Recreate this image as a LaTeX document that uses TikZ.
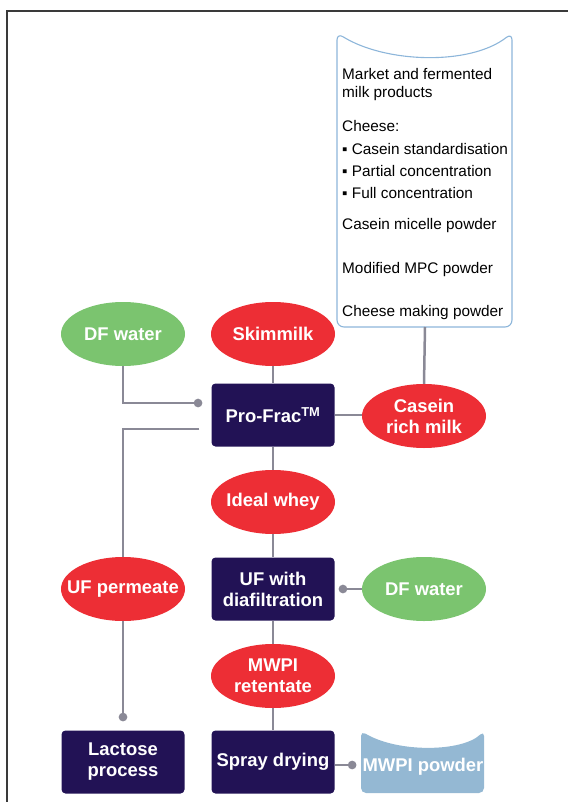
\documentclass[tikz,border=0pt]{standalone}
\usepackage{fontspec}
\setmainfont{Liberation Sans}
\usetikzlibrary{arrows.meta,shapes.geometric}
\definecolor{cred}{RGB}{237,46,53}
\definecolor{cgreen}{RGB}{123,196,111}
\definecolor{cnavy}{RGB}{34,18,85}
\definecolor{cline}{RGB}{138,137,150}
\definecolor{cdoc}{RGB}{141,182,218}
\definecolor{cpowder}{RGB}{148,184,211}
\definecolor{cframe}{RGB}{58,58,58}
\newcommand{\boldlbl}{\fontsize{18.5}{21}\selectfont\bfseries}
\newcommand{\doclbl}{\fontsize{15.4}{18}\selectfont}

\begin{document}
\begin{tikzpicture}[x=1bp,y=-1bp,
    stream/.style={ellipse,fill=cred,text=white,font=\boldlbl,align=center,
      minimum width=124bp,minimum height=64bp,inner xsep=-20bp,inner ysep=-14bp},
    water/.style={stream,fill=cgreen},
    unit/.style={rectangle,rounded corners=4bp,fill=cnavy,text=white,font=\boldlbl,
      align=center,minimum width=123bp,minimum height=63bp},
    link/.style={cline,line width=2.5bp},
    feed/.style={link,-{Circle[length=8.5bp]}}]
    \useasboundingbox (0,0) rectangle (568,802);
    \draw[cframe,line width=1.8bp] (7,802) -- (7,11) -- (568,11);

    \begin{scope}
      \draw[cdoc,line width=1.1bp,rounded corners=7bp]
        (337,327) -- (337,33) .. controls (385,63) and (470,66) .. (512,33) -- (512,327) -- cycle;
      \coordinate (docs) at (425,327);
      \foreach \ypos/\txt in {79.3/Market and fermented, 97.3/milk products, 131.7/Cheese:,
          154/{▪ Casein standardisation}, 176.7/{▪ Partial concentration},
          198.3/{▪ Full concentration}, 229/Casein micelle powder,
          273.3/Modified MPC powder, 316/Cheese making powder}
        \node[anchor=base west,font=\doclbl,inner sep=0] at (342,\ypos) {\txt};
    \end{scope}

    \node[water] (dfa) at (123,334) {DF water};
    \node[stream] (skim) at (273,334) {Skimmilk};
    \node[unit] (profrac) at (273,415) {Pro-Frac\textsuperscript{TM}};
    \node[stream] (casein) at (424,416) {Casein\\rich milk};
    \node[stream] (whey) at (273,502) {Ideal whey};
    \node[unit] (uf) at (273,589) {UF with\\diafiltration};
    \node[water] (dfb) at (424,589) {DF water};
    \node[stream] (perm) at (123,589) {UF permeate};
    \node[stream] (ret) at (273,676) {MWPI\\retentate};
    \node[unit] (lactose) at (123,762) {Lactose\\process};
    \node[unit] (spray) at (273,762) {Spray drying};

    \fill[cpowder,rounded corners=5bp]
      (361,793) -- (361,731) .. controls (398,753) and (462,752) .. (484,731) -- (484,793) -- cycle;
    \node[font=\boldlbl,text=white,inner sep=0] (powder) at (423,767) {MWPI powder};

    \draw[link] (docs) -- (casein.north);
    \draw[link] (skim.south) -- (profrac.north);
    \draw[feed,shorten >=9bp] (dfa.south) |- ([yshift=12bp]profrac.west);
    \draw[link] (profrac.east) -- (profrac.east -| casein.west);
    \draw[link,shorten <=12bp] ([yshift=-14bp]profrac.west) -| (perm.north);
    \draw[link] (profrac.south) -- (whey.north);
    \draw[link] (whey.south) -- (uf.north);
    \draw[feed,shorten >=4bp] (dfb.west) -- (uf.east);
    \draw[feed,shorten >=9bp] (perm.south) -- (lactose.north);
    \draw[link] (uf.south) -- (ret.north);
    \draw[link] (ret.south) -- (spray.north);
    \draw[feed,shorten >=6bp] ([yshift=-3bp]spray.east) -- ([yshift=-3bp]spray.east -| powder.west);
  \end{tikzpicture}
\end{document}
